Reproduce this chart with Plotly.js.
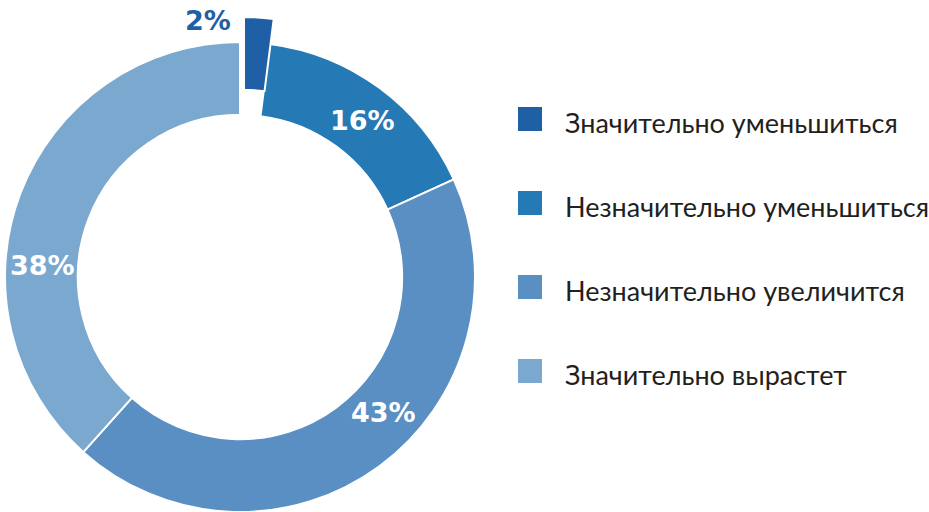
<!DOCTYPE html>
<html>
<head>
<meta charset="utf-8">
<script src="https://cdn.plot.ly/plotly-3.0.1.min.js"></script>
<style>html,body{margin:0;padding:0;background:#fff}#chart{width:929px;height:512px}</style>
</head>
<body>
<div id="chart"></div>
<script>
// ---- data ----
const categories = ['Значительно уменьшиться', 'Незначительно уменьшиться', 'Незначительно увеличится', 'Значительно вырастет'];
const values = [2, 16, 43, 38];
const colors = ['#1f5fa5', '#2579b5', '#5a8fc3', '#7aa8cf'];

// ---- layout constants ----
const W = 929, H = 512;
const cx = 240, cy = 277, R = 235;        // donut centre & radius (px)
const pullDx = 4, pullDy = -25;           // offset of the detached slice (px)
const labelPx = [[208, 20], [362, 120], [383, 412], [42, 265]];
const legX = 518, legY0 = 119, legStep = 84, legSq = 24, legTextX = 563;

function domainFor(x, y) {
  return {x: [(x - R) / W, (x + R) / W], y: [(H - y - R) / H, (H - y + R) / H]};
}
const clear = 'rgba(0,0,0,0)';

const base = {
  type: 'pie', labels: categories, values: values, sort: false,
  direction: 'clockwise', rotation: 0, hole: 0.69, textinfo: 'none',
  showlegend: false, hoverinfo: 'label+percent'
};
const mainTrace = Object.assign({}, base, {
  domain: domainFor(cx, cy),
  marker: {colors: colors.map((c, i) => i === 0 ? clear : c),
           line: {color: colors.map((c, i) => i === 0 ? clear : '#ffffff'), width: 2}}
});
const pulledTrace = Object.assign({}, base, {
  domain: domainFor(cx + pullDx, cy + pullDy),
  marker: {colors: colors.map((c, i) => i === 0 ? c : clear),
           line: {color: colors.map((c, i) => i === 0 ? '#ffffff' : clear), width: 2}}
});

const annotations = [];
const shapes = [];
values.forEach((v, i) => {
  annotations.push({
    xref: 'paper', yref: 'paper', x: labelPx[i][0] / W, y: 1 - labelPx[i][1] / H,
    xanchor: 'center', yanchor: 'middle', showarrow: false,
    text: '<b>' + v + '%</b>',
    font: {family: '"DejaVu Sans", sans-serif', size: 27, color: i === 0 ? colors[0] : '#ffffff'}
  });
  const yc = legY0 + i * legStep;
  shapes.push({
    type: 'rect', xref: 'paper', yref: 'paper',
    x0: legX / W, x1: (legX + legSq) / W,
    y0: 1 - (yc + legSq / 2) / H, y1: 1 - (yc - legSq / 2) / H,
    fillcolor: colors[i], line: {width: 0}
  });
  annotations.push({
    xref: 'paper', yref: 'paper', x: legTextX / W, y: 1 - (yc + 3) / H,
    xanchor: 'left', yanchor: 'middle', showarrow: false,
    text: categories[i],
    font: {family: 'Lato, "Noto Sans", sans-serif', size: 27, color: '#231f20'}
  });
});

const layout = {
  width: W, height: H, margin: {l: 0, r: 0, t: 0, b: 0},
  paper_bgcolor: '#ffffff', plot_bgcolor: '#ffffff',
  showlegend: false, annotations: annotations, shapes: shapes
};
Plotly.newPlot('chart', [mainTrace, pulledTrace], layout, {displayModeBar: false, staticPlot: true});
</script>
</body>
</html>
